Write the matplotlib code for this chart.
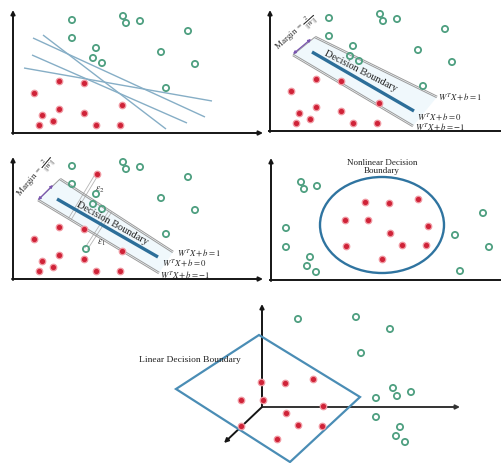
import numpy as np
import matplotlib
matplotlib.use("Agg")
import matplotlib.pyplot as plt
from matplotlib.patches import Ellipse, Polygon

plt.rcParams["font.family"] = ["Liberation Serif", "DejaVu Serif"]
plt.rcParams["mathtext.fontset"] = "stix"

W, H = 501, 463

# ---- 2-D dataset shared by the three linear panels (local coords, origin at axis corner)
green_2d = [(59, 113), (110, 117), (113, 110), (127, 112), (175, 102), (59, 95),
            (83, 85), (80, 75), (89, 70), (148, 81), (182, 69), (153, 45)]
red_2d = [(46, 52), (71, 50), (21, 40), (46, 24), (71, 20), (109, 28),
          (29, 18), (40, 12), (26, 8), (83, 8), (107, 8)]

# candidate separating lines (panel 1)
candidate_lines = [[(20, 95), (192, 16)], [(30, 98), (153, 4)],
                   [(19, 78), (174, 10)], [(11, 65), (199, 32)]]

# hard-margin panel
hm_boundary = [(42, 79), (144, 20)]
hm_upper = [(45, 94), (167, 34)]
hm_lower = [(23, 76), (143, 5)]

# soft-margin panel
sm_green_extra = [(73, 30)]
sm_red_extra = [(84, 105)]
sm_boundary = [(44, 80), (145, 22)]
sm_upper = [(47, 100), (160, 27)]
sm_lower = [(25, 79), (146, 6)]

# nonlinear panel
nl_red = [(94, 78), (118, 77), (147, 81), (74, 60), (97, 60), (157, 54),
          (119, 47), (75, 34), (131, 35), (155, 35), (111, 21)]
nl_green = [(30, 98), (33, 91), (46, 94), (15, 52), (15, 33), (39, 23),
            (36, 14), (45, 8), (184, 45), (212, 67), (218, 33), (189, 9)]
nl_center, nl_width, nl_height = (111, 55), 124, 96

# 3-D panel (projected)
td_red = [(-1, 25), (23, 24), (51, 28), (-21, 7), (1, 7), (61, 1),
          (24, -6), (36, -18), (60, -19), (-21, -19), (15, -32)]
td_green = [(36, 88), (94, 90), (128, 78), (99, 54), (131, 19), (135, 11),
            (149, 15), (114, 9), (114, -10), (138, -20), (134, -29), (143, -35)]
td_plane = [(-3, 72), (-86, 18), (28, -55), (98, 10)]

AXIS_C = "#151515"
GREEN_C = "#4e9f80"
RED_C = "#cf2338"
RED_EDGE = "#f19aa3"
BOUND_C = "#2c6e99"
MARGIN_C = "#9a9a9a"
PURPLE_C = "#7a55b0"

fig = plt.figure(figsize=(W / 100, H / 100), dpi=100)


def panel(x0, ytop, w, h, cx, cy):
    ax = fig.add_axes([x0 / W, 1 - (ytop + h) / H, w / W, h / H])
    ax.set_xlim(x0 - cx, x0 + w - cx)
    ax.set_ylim(cy - (ytop + h), cy - ytop)
    ax.axis("off")
    ax.patch.set_alpha(0)
    return ax


def axes_arrows(ax, top, right, right_arrow=True):
    ax.annotate("", xy=(0, top), xytext=(0, -1),
                arrowprops=dict(arrowstyle="-|>", lw=1.4, color=AXIS_C,
                                mutation_scale=6, shrinkA=0, shrinkB=0))
    if right_arrow:
        ax.annotate("", xy=(right, 0), xytext=(-1, 0),
                    arrowprops=dict(arrowstyle="-|>", lw=1.4, color=AXIS_C,
                                    mutation_scale=6, shrinkA=0, shrinkB=0))
    else:
        ax.plot([-1, right], [0, 0], color=AXIS_C, lw=1.4, clip_on=False)


def points(ax, green, red):
    g = np.array(green)
    r = np.array(red)
    ax.scatter(g[:, 0], g[:, 1], s=20, facecolors="none", edgecolors=GREEN_C,
               linewidths=1.3, zorder=5, clip_on=False)
    ax.scatter(r[:, 0], r[:, 1], s=22, facecolors=RED_C, edgecolors=RED_EDGE,
               linewidths=0.9, zorder=5, clip_on=False)


def seg(ax, s, **kw):
    s = np.array(s)
    ax.plot(s[:, 0], s[:, 1], solid_capstyle="butt", clip_on=False, **kw)


def double_line(ax, s, gap=1.6):
    s = np.array(s, dtype=float)
    d = s[1] - s[0]
    n = np.array([-d[1], d[0]]) / np.hypot(*d)
    for k in (-gap / 2, gap / 2):
        seg(ax, s + k * n, color=MARGIN_C, lw=0.7)


def angle_of(s):
    (x1, y1), (x2, y2) = s
    return np.degrees(np.arctan2(y2 - y1, x2 - x1))


def foot(p, s):
    p = np.array(p, float)
    a, b = np.array(s, float)
    d = b - a
    t = np.dot(p - a, d) / np.dot(d, d)
    return a + t * d


def margin_panel(ax, bound, upper, lower, margin_xy, margin_rot, arrow, text_xy, text_rot, labels_xy):
    band = np.array([upper[0], upper[1], lower[1], lower[0]], float)
    ax.add_patch(Polygon(band, closed=True, facecolor="#f0f8fc", edgecolor="none", zorder=1))
    double_line(ax, upper)
    double_line(ax, lower)
    seg(ax, [upper[0], lower[0]], color=MARGIN_C, lw=0.7)
    seg(ax, bound, color=BOUND_C, lw=2.4, zorder=3)
    ax.annotate("", xy=arrow[1], xytext=arrow[0],
                arrowprops=dict(arrowstyle="<|-|>", lw=0.9, color=PURPLE_C,
                                mutation_scale=4, shrinkA=0, shrinkB=0))
    ax.text(*margin_xy, r"Margin = $\frac{2}{\|W\|}$", fontsize=6.6, rotation=margin_rot,
            ha="center", va="center", color="#333333", rotation_mode="anchor")
    ax.text(*text_xy, "Decision Boundary", fontsize=7.5, rotation=text_rot,
            ha="center", va="center", color="#222222", rotation_mode="anchor", zorder=6)
    eqs = [r"$W^TX+b=1$", r"$W^TX+b=0$", r"$W^TX+b=-1$"]
    for (x, y), t in zip(labels_xy, eqs):
        ax.text(x, y, t, fontsize=6.3, ha="left", va="center", color="#222222")


# ---------------- panel 1: many separating lines
ax1 = panel(0, 0, 268, 142, 13, 133)
axes_arrows(ax1, 123, 250)
for s in candidate_lines:
    seg(ax1, s, color="#86aec6", lw=1.0)
points(ax1, green_2d, red_2d)

# ---------------- panel 2: hard margin
ax2 = panel(252, 0, 249, 142, 270, 131)
axes_arrows(ax2, 121, 231, right_arrow=False)
margin_panel(ax2, hm_boundary, hm_upper, hm_lower,
             margin_xy=(26, 98), margin_rot=42, arrow=[(41, 92), (23, 77)],
             text_xy=(91, 60), text_rot=angle_of(hm_boundary) + 3,
             labels_xy=[(168, 34), (147, 14), (145, 4)])
points(ax2, green_2d, red_2d)

# ---------------- panel 3: soft margin
ax3 = panel(0, 142, 268, 148, 13, 279)
axes_arrows(ax3, 122, 250)
for p, s in ((sm_red_extra[0], sm_upper), (sm_green_extra[0], sm_lower)):
    f = foot(p, s)
    other = sm_lower if s is sm_upper else sm_upper
    g = foot(p, other)
    d = np.array(f) - np.array(p)
    n = np.array([-d[1], d[0]]) / np.hypot(*d)
    for k in (-1.5, 1.5):
        seg(ax3, [np.array(p) + k * n, g + k * n], color="#b5b5b5", lw=0.6, zorder=2)
margin_panel(ax3, sm_boundary, sm_upper, sm_lower,
             margin_xy=(23, 102), margin_rot=50, arrow=[(40, 94), (25, 79)],
             text_xy=(99, 56), text_rot=angle_of(sm_boundary) + 1,
             labels_xy=[(164, 26), (149, 16), (147, 4)])
ax3.text(87, 89, r"$\varepsilon_2$", fontsize=7, ha="center", va="center", color="#333333")
ax3.text(88, 36, r"$\varepsilon_1$", fontsize=7, ha="center", va="center", color="#333333")
points(ax3, green_2d + sm_green_extra, red_2d + sm_red_extra)

# ---------------- panel 4: nonlinear boundary
ax4 = panel(252, 142, 249, 148, 271, 280)
axes_arrows(ax4, 122, 230, right_arrow=False)
ax4.add_patch(Ellipse(nl_center, nl_width, nl_height, facecolor="none",
                      edgecolor="#2f74a0", lw=1.7, zorder=3))
ax4.text(111, 113, "Nonlinear Decision\nBoundary", fontsize=6.5, ha="center",
         va="center", linespacing=1.1, color="#222222")
points(ax4, nl_green, nl_red)

# ---------------- panel 5: 3-D view with a plane
ax5 = panel(100, 290, 401, 173, 262, 407)
ax5.annotate("", xy=(0, 103), xytext=(0, 0),
             arrowprops=dict(arrowstyle="-|>", lw=1.4, color=AXIS_C,
                             mutation_scale=6, shrinkA=0, shrinkB=0))
ax5.annotate("", xy=(198, 0), xytext=(0, 0),
             arrowprops=dict(arrowstyle="-|>", lw=1.4, color="#333333",
                             mutation_scale=6, shrinkA=0, shrinkB=0))
ax5.annotate("", xy=(-38, -36), xytext=(0, 0),
             arrowprops=dict(arrowstyle="-|>", lw=1.4, color=AXIS_C,
                             mutation_scale=6, shrinkA=0, shrinkB=0))
ax5.add_patch(Polygon(np.array(td_plane), closed=True, facecolor="none",
                      edgecolor="#4a8db5", lw=1.6, zorder=3, clip_on=False))
ax5.text(-123, 47, "Linear Decision Boundary", fontsize=6.8, ha="left",
         va="center", color="#222222", zorder=4)
points(ax5, td_green, td_red)

fig.savefig("out.png", dpi=100)
